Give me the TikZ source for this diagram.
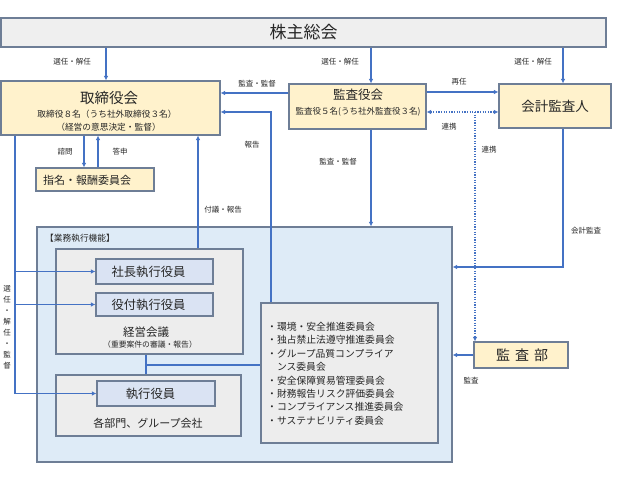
\documentclass[tikz,border=0pt]{standalone}
\usepackage{fontspec}
\setmainfont{Noto Sans CJK JP}
\usetikzlibrary{arrows.meta}
\definecolor{lineblue}{HTML}{4472C4}
\definecolor{bord}{HTML}{6E7E96}
\definecolor{yel}{HTML}{FFF2CC}
\definecolor{gry}{HTML}{EDEDED}
\definecolor{sougry}{HTML}{EFEFEF}
\definecolor{ltblue}{HTML}{DEEBF7}
\definecolor{boxblue}{HTML}{DAE3F3}
\definecolor{txt}{HTML}{262626}
\newcommand{\fs}[1]{\fontsize{#1}{#1}\selectfont}
\begin{document}
\begin{tikzpicture}[x=1pt,y=-1pt,
  box/.style={draw=bord, line width=1.1pt, inner sep=0pt, text=txt},
  tx/.style={inner sep=0pt, text=txt},
  conn/.style={draw=lineblue, line width=1.4pt},
  arr/.style={conn, -{Latex[length=4.5pt,width=4.5pt]}},
  dotl/.style={draw=lineblue, line width=1.4pt, dash pattern=on 1.2pt off 1.4pt},
  lbl/.style={font=\fs{7.5}, text=txt, inner sep=0pt},
]
\fill[white] (0,0) rectangle (621,478);
\useasboundingbox (0,0) rectangle (621,478);

% column / row helper coordinates
\coordinate (xA) at (106,0);
\coordinate (xB) at (371,0);
\coordinate (xC) at (563,0);
\coordinate (xD) at (475,0);
\coordinate (xE) at (271,0);
\coordinate (xF) at (198,0);
\coordinate (xG) at (84,0);
\coordinate (xH) at (98,0);
\coordinate (xI) at (15,0);
\coordinate (xJ) at (146,0);
\coordinate (yA) at (0,93);
\coordinate (yB) at (0,92);
\coordinate (yC) at (0,112);
\coordinate (yD) at (0,267);
\coordinate (yE) at (0,365);

% boxes
\node[box, fill=sougry, minimum width=605pt, minimum height=29pt, font=\fs{17}] (sou) at (303.5,32.5) {株主総会};
\node[box, fill=yel, minimum width=219pt, minimum height=54pt] (tori) at (110.5,108) {};
\node[box, fill=yel, minimum width=137pt, minimum height=45pt] (kansa) at (357.5,106.5) {};
\node[box, fill=yel, minimum width=112pt, minimum height=44pt, font=\fs{13.5}] (kaikei) at (555,106) {会計監査人};
\node[box, fill=yel, minimum width=118pt, minimum height=23pt] (shimei) at (95,179.5) {};

\node[box, fill=ltblue, minimum width=415pt, minimum height=235pt] (gyomu) at (244.5,344.5) {};
\node[box, fill=gry, minimum width=187pt, minimum height=105pt] (keiei) at (149.5,301.5) {};
\node[box, fill=boxblue, minimum width=117pt, minimum height=25pt] (shacho) at (154.5,271.5) {};
\node[box, fill=boxblue, minimum width=117pt, minimum height=23pt] (yaku) at (154.5,304.5) {};
\node[box, fill=gry, minimum width=185pt, minimum height=61pt] (group) at (148.5,405.5) {};
\node[box, fill=boxblue, minimum width=118pt, minimum height=25pt] (shikko) at (156,393.5) {};
\node[box, fill=gry, minimum width=177pt, minimum height=140pt] (iinkai) at (349.5,373) {};
\node[box, fill=yel, minimum width=94pt, minimum height=26pt] (kansabu) at (521,355) {};

% box texts
\node[tx, font=\fs{14.5}] (toriT) at (109,98) {取締役会};
\node[tx, font=\fs{8.7}] (toriS1) at (107,114) {取締役８名（うち社外取締役３名）};
\node[tx, font=\fs{8.7}] (toriS2) at (108.5,127) {（経営の意思決定・監督）};
\node[tx, font=\fs{12.5}] (kansaT) at (358,95) {監査役会};
\node[tx, font=\fs{8.5}] (kansaS) at (358,112) {監査役５名(うち社外監査役３名)};
\node[tx, font=\fs{11}, anchor=west] (shimeiT) at (43,180) {指名・報酬委員会};
\node[tx, font=\fs{8.7}, anchor=west] (gyomuT) at (45,238) {【業務執行機能】};
\node[tx, font=\fs{12.3}] (shachoT) at (148.5,271.5) {社長執行役員};
\node[tx, font=\fs{12.3}] (yakuT) at (148.5,304.5) {役付執行役員};
\node[tx, font=\fs{11.5}] (keieiT) at (146,332) {経営会議};
\node[tx, font=\fs{7.8}] (keieiS) at (150,345) {（重要案件の審議・報告）};
\node[tx, font=\fs{12.3}] (shikkoT) at (150.5,393.5) {執行役員};
\node[tx, font=\fs{11}] (groupT) at (148,423) {各部門、グループ会社};
\node[tx, font=\fs{14}] (kansabuT) at (522,355) {監\hspace{5pt}査\hspace{5pt}部};
\node[tx, font=\fontsize{9.8}{13.4}\selectfont, anchor=north west, align=left] (list) at (267,322)
 {・環境・安全推進委員会\\
  ・独占禁止法遵守推進委員会\\
  ・グループ品質コンプライア\\
  \hphantom{・}ンス委員会\\
  ・安全保障貿易管理委員会\\
  ・財務報告リスク評価委員会\\
  ・コンプライアンス推進委員会\\
  ・サステナビリティ委員会};

% connectors
\draw[arr] (sou.south -| xA) -- (tori.north -| xA);
\draw[arr] (sou.south -| xB) -- (kansa.north -| xB);
\draw[arr] (sou.south -| xC) -- (kaikei.north -| xC);
\draw[arr] (kansa.west |- yA) -- (tori.east |- yA);
\draw[arr] (kansa.east |- yB) -- (kaikei.west |- yB);
\draw[dotl, {Latex[length=4.5pt,width=4.5pt]}-{Latex[length=4.5pt,width=4.5pt]}] (kansa.east |- yC) -- (kaikei.west |- yC);
\coordinate (dv) at (xD |- yC);
\draw[dotl, -{Latex[length=4.5pt,width=4.5pt]}] (dv) -- (kansabu.north -| xD);
\draw[arr] (kansa.south -| xB) -- (gyomu.north -| xB);
\draw[arr] (kaikei.south -| xC) -- (xC |- yD) -- (gyomu.east |- yD);
\draw[arr] (iinkai.north -| xE) |- (tori.east |- yC);
\draw[arr] (keiei.north -| xF) -- (tori.south -| xF);
\draw[arr] (tori.south -| xG) -- (shimei.north -| xG);
\draw[arr] (shimei.north -| xH) -- (tori.south -| xH);
\draw[arr] (tori.south -| xI) |- (shikko.west);
\draw[arr] (xI |- shacho.west) -- (shacho.west);
\draw[arr] (xI |- yaku.west) -- (yaku.west);
\draw[conn] (keiei.south -| xJ) -- (group.north -| xJ);
\draw[conn] (xJ |- yE) -- (iinkai.west |- yE);
\draw[arr] (kansabu.west) -- (gyomu.east |- kansabu.west);

% connector labels
\node[lbl] (l1) at (72,62) {選任・解任};
\node[lbl] (l2) at (340,62) {選任・解任};
\node[lbl] (l3) at (533,62) {選任・解任};
\node[lbl] (l4) at (257,84) {監査・監督};
\node[lbl] (l5) at (459,82) {再任};
\node[lbl] (l6) at (449,127) {連携};
\node[lbl] (l7) at (489,150) {連携};
\node[lbl] (l8) at (252,145) {報告};
\node[lbl] (l9) at (338,162) {監査・監督};
\node[lbl] (l10) at (65,152) {諮問};
\node[lbl] (l11) at (120,152) {答申};
\node[lbl] (l12) at (223,210) {付議・報告};
\node[lbl] (l13) at (586,231) {会計監査};
\node[lbl] (l14) at (471,381) {監査};
\node[lbl, align=center, font=\fontsize{7.5}{11}\selectfont] (l15) at (7,327.5) {選\\任\\・\\解\\任\\・\\監\\督};
\end{tikzpicture}
\end{document}
